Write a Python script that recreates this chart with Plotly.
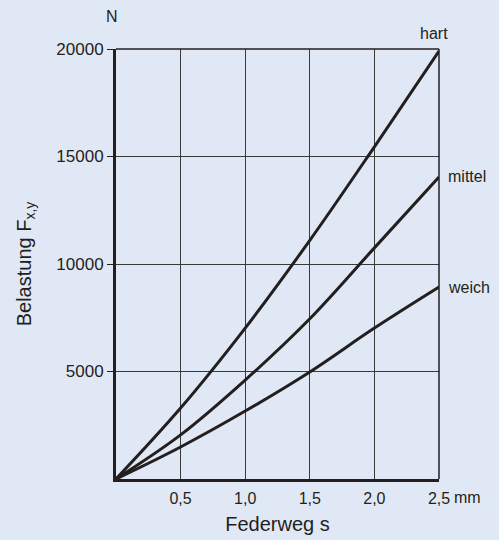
import plotly.graph_objects as go

# Federweg s in mm
federweg = [0, 0.5, 1.0, 1.5, 2.0, 2.5]

# Belastung in N
hart = [0, 3300, 7020, 11100, 15450, 19900]
mittel = [0, 2050, 4600, 7450, 10750, 14050]
weich = [0, 1490, 3160, 4980, 7020, 8930]

x_ticks = [0.5, 1.0, 1.5, 2.0, 2.5]
x_ticktext = ["0,5", "1,0", "1,5", "2,0", "2,5"]
y_ticks = [5000, 10000, 15000, 20000]
y_ticktext = ["5000", "10000", "15000", "20000"]

bg = "#e1e8f5"
ink = "#231f20"
font = "Liberation Sans, Arial, sans-serif"

fig = go.Figure()

for name, werte in [("hart", hart), ("mittel", mittel), ("weich", weich)]:
    fig.add_trace(go.Scatter(
        x=federweg, y=werte, mode="lines", name=name,
        line=dict(color=ink, width=3, shape="spline", smoothing=1.0),
        showlegend=False, hoverinfo="skip"
    ))

# Kurvenbeschriftung
fig.add_annotation(x=2.5, y=hart[-1], text="hart", showarrow=False,
                   xanchor="center", yanchor="bottom", xshift=-5, yshift=7,
                   font=dict(size=16, color=ink, family=font))
fig.add_annotation(x=2.5, y=mittel[-1], text="mittel", showarrow=False,
                   xanchor="left", xshift=7,
                   font=dict(size=16, color=ink, family=font))
fig.add_annotation(x=2.5, y=weich[-1], text="weich", showarrow=False,
                   xanchor="left", xshift=7,
                   font=dict(size=16, color=ink, family=font))
fig.add_annotation(x=0, y=20000, text="N", showarrow=False,
                   xanchor="center", yanchor="bottom", xshift=-4, yshift=22,
                   font=dict(size=16, color=ink, family=font))
fig.add_annotation(x=2.5, y=0, text="mm", showarrow=False,
                   xanchor="left", yanchor="top", xshift=13, yshift=-8,
                   font=dict(size=16, color=ink, family=font))

# Rahmen oben und rechts (dünn)
fig.add_shape(type="line", xref="paper", yref="paper", x0=0, x1=1, y0=1, y1=1,
              line=dict(color=ink, width=1.5))
fig.add_shape(type="line", xref="paper", yref="paper", x0=1, x1=1, y0=0, y1=1,
              line=dict(color=ink, width=1.5))

fig.update_layout(
    width=499, height=540,
    margin=dict(l=116, r=60, t=49, b=61),
    paper_bgcolor=bg, plot_bgcolor=bg,
    font=dict(family=font, color=ink, size=16),
)

fig.update_xaxes(
    range=[0, 2.5], tickvals=x_ticks, ticktext=x_ticktext,
    showgrid=True, gridcolor="#3a3a3a", gridwidth=1,
    showline=True, linecolor=ink, linewidth=3,
    zeroline=False, ticks="", ticklabelstandoff=3, automargin=False,
    tickfont=dict(size=16),
    title=dict(text="Federweg s", font=dict(size=20), standoff=11),
)
fig.update_yaxes(
    range=[0, 20000], tickvals=y_ticks, ticktext=y_ticktext,
    showgrid=True, gridcolor="#3a3a3a", gridwidth=1,
    showline=True, linecolor=ink, linewidth=3,
    zeroline=False, ticks="outside", ticklen=6, tickcolor=ink, tickwidth=1,
    automargin=False, tickfont=dict(size=17),
    title=dict(text="Belastung F<sub>x,y</sub>", font=dict(size=20), standoff=20),
)

# Seitenrand entfernen, damit die Grafik bei (0,0) beginnt
fig.write_html(
    "out.html",
    config={"displayModeBar": False},
    post_script="document.body.style.margin='0';document.body.style.background='%s';" % bg,
)
